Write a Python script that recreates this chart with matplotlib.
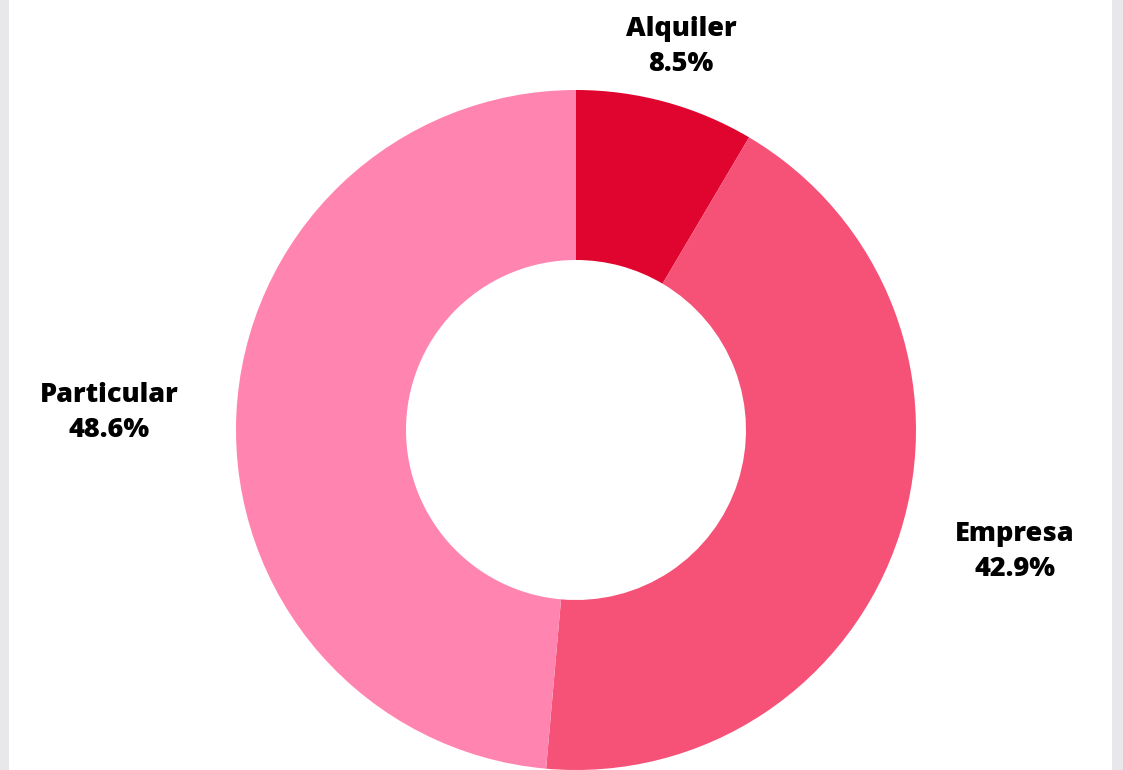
import matplotlib
matplotlib.use("Agg")
import matplotlib.pyplot as plt
import numpy as np
from matplotlib.patches import Rectangle

# datos
categorias = ['Alquiler', 'Empresa', 'Particular']
porcentajes = [8.5, 42.9, 48.6]
colores = ['#e0052f', '#f65177', '#ff85b0']

W, H = 1123, 770
fig = plt.figure(figsize=(W / 100, H / 100), dpi=100)
fig.patch.set_facecolor('white')

# franjas grises a los lados
fig.patches.append(Rectangle((0, 0), 9 / W, 1, transform=fig.transFigure,
                             facecolor='#e8e8ea', edgecolor='none', zorder=0))
fig.patches.append(Rectangle((1112 / W, 0), 11 / W, 1, transform=fig.transFigure,
                             facecolor='#e8e8ea', edgecolor='none', zorder=0))

# ejes: centro (576, 430), radio 340 px
cx, cy, r = 576, 430, 340
ax = fig.add_axes([(cx - r) / W, (H - cy - r) / H, 2 * r / W, 2 * r / H])

wedges, _ = ax.pie(
    porcentajes,
    colors=colores,
    startangle=90,
    counterclock=False,
    radius=1,
    wedgeprops=dict(width=0.5, edgecolor='none'),
)
ax.set_xlim(-1, 1)
ax.set_ylim(-1, 1)
ax.set_aspect('equal')
ax.axis('off')

dist = 1.17
for w, cat, p in zip(wedges, categorias, porcentajes):
    ang = np.deg2rad((w.theta1 + w.theta2) / 2)
    x, y = dist * np.cos(ang), dist * np.sin(ang)
    if abs(np.cos(ang)) < 0.5:
        ha = 'center'
    elif x > 0:
        ha = 'left'
    else:
        ha = 'right'
    ax.text(x, y, f'{cat}\n{p}%', ha=ha, va='center', multialignment='center',
            fontsize=19.5, fontweight='heavy', family='Open Sans',
            color='black', linespacing=1.45, clip_on=False)

fig.savefig('out.png', dpi=100)
